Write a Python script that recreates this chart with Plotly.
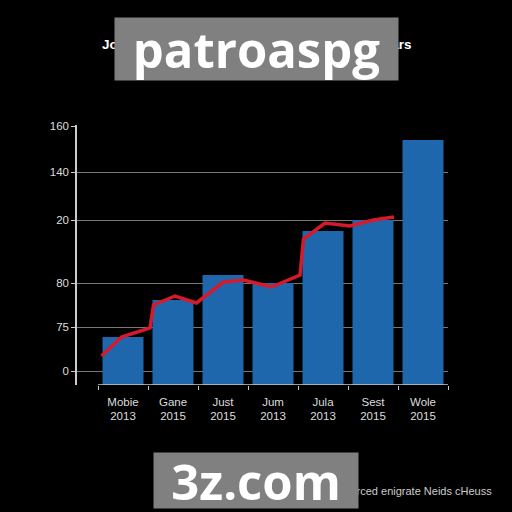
import plotly.graph_objects as go

# ---- data ----
categories = ["Mobie<br>2013", "Gane<br>2015", "Just<br>2015", "Jum<br>2013",
              "Jula<br>2013", "Sest<br>2015", "Wole<br>2015"]
bar_positions = [0, 1, 2, 3, 4, 5, 6]
bar_values = [48, 85, 110, 102, 154, 165, 245]

line_x = [-0.43, -0.03, 0.54, 0.61, 1.04, 1.47, 2.01, 2.41, 2.97, 3.54, 3.61, 4.04, 4.54, 5.01, 5.42]
line_y = [29, 48, 57, 80, 89, 82, 103, 105, 98, 110, 146, 162, 159, 165, 168]

y_tick_vals = [14, 58, 102, 165, 213, 259]
y_tick_text = ["0", "75", "80", "20", "140", "160"]

title_text = "Job Growth and Employment Trends Over Years"
caption_text = "Sourced enigrate Neids cHeuss"
watermark_top = "patroaspg"
watermark_bottom = "3z.com"

W, H = 512, 512
L, R, T, B = 77, 448, 125, 385

def px(x):
    return (x - L) / (R - L)

def py(y):
    return (B - y) / (B - T)

fig = go.Figure()
fig.add_trace(go.Bar(x=bar_positions, y=bar_values, marker=dict(color="#1f67ad", line=dict(width=0)),
                     width=0.82, showlegend=False))
fig.add_trace(go.Scatter(x=line_x, y=line_y, mode="lines",
                         line=dict(color="#d61a2c", width=3.5), showlegend=False))

fig.update_layout(
    width=W, height=H,
    margin=dict(l=L, r=W - R, t=T, b=H - B, pad=0),
    paper_bgcolor="black", plot_bgcolor="black",
    font=dict(family="Liberation Sans", color="#dddddd"),
    xaxis=dict(range=[-0.92, 6.5], tickmode="array", tickvals=bar_positions, ticktext=categories,
               showgrid=False, zeroline=False, showline=False, ticks="",
               ticklabelstandoff=8,
               tickfont=dict(size=11.5, color="#dddddd"),
               minor=dict(tickmode="array", tickvals=[-0.5, 0.5, 1.5, 2.5, 3.5, 4.5, 5.5, 6.5],
                          ticks="outside", ticklen=4, tickcolor="#cccccc", tickwidth=1, showgrid=False)),
    yaxis=dict(range=[0, 260], tickmode="array", tickvals=y_tick_vals, ticktext=y_tick_text,
               showgrid=True, gridcolor="#777777", gridwidth=1, zeroline=False,
               showline=True, linecolor="#cccccc", linewidth=1.5,
               ticks="outside", ticklen=4, tickcolor="#cccccc",
               tickfont=dict(size=11.5, color="#dddddd")),
    bargap=0.18,
)

# x-axis baseline across the category span
fig.add_shape(type="line", xref="x", yref="y", x0=-0.5, x1=6.5, y0=0, y1=0,
              line=dict(color="#cccccc", width=1.5))

# title (mostly hidden by watermark)
fig.add_annotation(text="<b>" + title_text + "</b>", xref="paper", yref="paper", x=px(256.5), y=py(44),
                   xanchor="center", yanchor="middle", showarrow=False,
                   font=dict(size=13.5, color="white", family="Liberation Sans"))
# caption
fig.add_annotation(text=caption_text, xref="paper", yref="paper", x=px(494), y=py(491),
                   xanchor="right", yanchor="middle", showarrow=False,
                   font=dict(size=11, color="#cccccc", family="Liberation Sans"))

# watermark boxes (annotations so they sit above the title/caption)
fig.add_annotation(text=f"<b>{watermark_top}</b>", xref="paper", yref="paper",
                   x=px(256.5), y=py(49), xanchor="center", yanchor="middle",
                   width=283, height=62, bgcolor="#808080", borderpad=0,
                   showarrow=False, font=dict(size=49, color="white", family="Open Sans"))
fig.add_annotation(text=f"<b>{watermark_bottom}</b>", xref="paper", yref="paper",
                   x=px(256), y=py(480.5), xanchor="center", yanchor="middle",
                   width=204, height=55, bgcolor="#808080", borderpad=0,
                   showarrow=False, font=dict(size=49, color="white", family="Open Sans"))

fig.write_html("out.html", config={"displayModeBar": False},
               post_script="document.body.style.margin='0';document.body.style.background='black';")
